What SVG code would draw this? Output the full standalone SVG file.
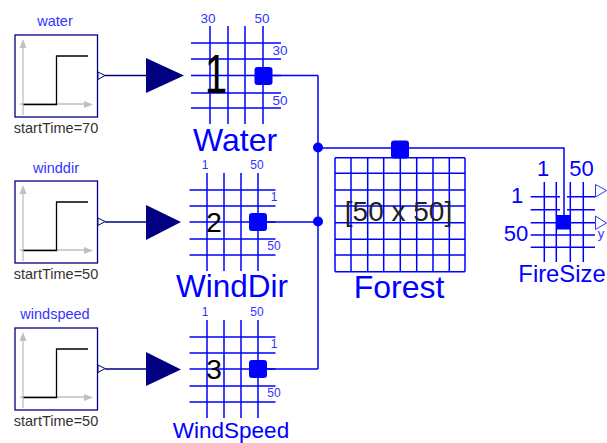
<svg xmlns="http://www.w3.org/2000/svg" width="607" height="443" viewBox="0 0 607 443">
<defs>
<g id="step">
<rect x="15" y="35" width="82.5" height="82" fill="#fff" stroke="#000080" stroke-width="1.300"/>
<path d="M23 46V115M20 104H86" fill="none" stroke="#c0c0c0" stroke-width="1.300"/>
<path d="M23 39L19.500 48H26.500ZM93 104.500L84 101V108Z" fill="#c0c0c0"/>
<path d="M23.500 104.500H56.500V56H88" fill="none" stroke="#000" stroke-width="1.300"/>
<path d="M98 72L105 75.500L98 79.500Z" fill="#fff" stroke="#000080" stroke-width="1"/>
</g>
<g id="mid">
<path d="M207 -49V49M224 -49V49M241 -49V49M258 -49V49M189.500 -32H275.500M189.500 -16H275.500M189.500 0H275.500M189.500 17H275.500M189.500 33H275.500" fill="none" stroke="#0000ff" stroke-width="1.500"/>
<rect x="249" y="-9" width="18" height="18" rx="3" fill="#0000ff"/>
</g>
</defs>
<style>
text{font-family:"Liberation Sans",Arial,sans-serif}
.b{fill:#0000ff}
.l{stroke:#0000ff;stroke-width:1.500;fill:none}
.g{stroke:#0000ff;stroke-width:1.500;fill:none}
.n{stroke:#000080;stroke-width:1.500;fill:none}
.t{fill:#000080}
.m{text-anchor:middle}
.s{font-size:14.500px;fill:#333}
.c{font-size:14.500px;fill:#3333ff}
</style>
<g id="connectors">
<path class="n" d="M105 75.500H146M105 222H146M105 369H146"/>
<path class="t" d="M146 58L184 75.500L146 93ZM146 205L181 222L146 240ZM146 352L181 369.500L146 386Z"/>
<path class="l" d="M272 75.500H318M267 222H318M267 369H318M318 75.500V369M318 148H564V218"/>
<circle cx="318" cy="147.500" r="5" fill="#0000ff"/>
<circle cx="318" cy="221.500" r="5" fill="#0000ff"/>
</g>
<g id="water_source">
<use href="#step"/>
<text x="55" y="26" class="m c">water</text>
<text x="56" y="133" class="m s">startTime=70</text>
</g>
<g id="winddir_source">
<use href="#step" y="146"/>
<text x="56" y="173" class="m c">winddir</text>
<text x="56" y="279" class="m s">startTime=50</text>
</g>
<g id="windspeed_source">
<use href="#step" y="293"/>
<text x="55" y="319" class="m c">windspeed</text>
<text x="56" y="426" class="m s">startTime=50</text>
</g>
<g id="Water">
<path class="g" d="M210 26V124M228 26V124M245 26V124M263 26V124M191 43H281M191 59H281M191 75.500H281M191 93H281M191 108H281"/>
<rect x="254.500" y="67" width="18" height="18" rx="3" class="b"/>
<text x="208" y="23" class="m" font-size="13.500" fill="#3333ff">30</text>
<text x="262" y="23" class="m" font-size="13.500" fill="#3333ff">50</text>
<text x="280" y="55" class="m" font-size="13.500" fill="#3333ff">30</text>
<text x="280" y="105" class="m" font-size="13.500" fill="#3333ff">50</text>
<text transform="translate(216 93) scale(.72 1)" class="m" font-size="56">1</text>
<text x="235" y="151" class="m" font-size="32" fill="#0000ff">Water</text>
</g>
<g id="WindDir">
<use href="#mid" y="222"/>
<text x="205" y="169" class="m" font-size="12" fill="#3333ff">1</text>
<text x="257" y="169" class="m" font-size="12" fill="#3333ff">50</text>
<text x="274" y="201" class="m" font-size="12" fill="#3333ff">1</text>
<text x="274" y="250" class="m" font-size="12" fill="#3333ff">50</text>
<text x="214" y="232" class="m" font-size="28">2</text>
<text x="232" y="297" class="m" font-size="31.500" fill="#0000ff">WindDir</text>
</g>
<g id="WindSpeed">
<use href="#mid" y="369"/>
<text x="205" y="316" class="m" font-size="12" fill="#3333ff">1</text>
<text x="257" y="316" class="m" font-size="12" fill="#3333ff">50</text>
<text x="274" y="348" class="m" font-size="12" fill="#3333ff">1</text>
<text x="274" y="397" class="m" font-size="12" fill="#3333ff">50</text>
<text x="214" y="379" class="m" font-size="28">3</text>
<text x="231" y="438" class="m" font-size="22.500" fill="#0000ff">WindSpeed</text>
</g>
<g id="Forest">
<path class="g" d="M335 157.700V271.700M351 157.700V271.700M367.700 157.700V271.700M383.700 157.700V271.700M400.300 157.700V271.700M416.700 157.700V271.700M433 157.700V271.700M449.300 157.700V271.700M465 157.700V271.700M335 157.700H465M335 173.300H465M335 190H465M335 206H465M335 222.700H465M335 239.300H465M335 255H465M335 271.700H465"/>
<rect x="391" y="140.500" width="18" height="18" rx="3" class="b"/>
<text x="398.500" y="221" class="m" font-size="28" fill="#222">[50 x 50]</text>
<text x="399" y="298" class="m" font-size="32" fill="#0000ff">Forest</text>
</g>
<g id="FireSize">
<path class="g" d="M544.300 182V262M556.300 182V262M570.300 182V262M583.300 182V262M530.700 196.700H560M567 196.700H595M530.700 209.700H560M567 209.700H595M530.700 222.700H595M530.700 235H595M530.700 247.300H595"/>
<rect x="556.500" y="215" width="14.500" height="14.500" class="b"/>
<path d="M595.500 184.500L606.500 190.500L595.500 197ZM595.500 216L606.500 223L595.500 229.500Z" fill="#fff" stroke="#3333ff" stroke-width="1"/>
<text x="543" y="176" class="m" font-size="22" fill="#0000ff">1</text>
<text x="581.500" y="176" class="m" font-size="22" fill="#0000ff">50</text>
<text x="517" y="203" class="m" font-size="22" fill="#0000ff">1</text>
<text x="516" y="241" class="m" font-size="22" fill="#0000ff">50</text>
<text x="601" y="238" class="m" font-size="13" fill="#3333ff">y</text>
<text x="562" y="282" class="m" font-size="23.800" fill="#0000ff">FireSize</text>
</g>
</svg>
